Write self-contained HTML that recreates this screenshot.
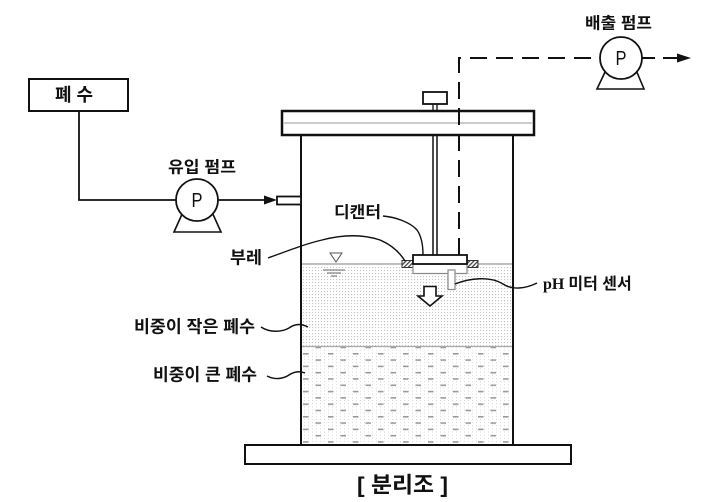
<!DOCTYPE html>
<html><head><meta charset="utf-8"><style>
html,body{margin:0;padding:0;background:#fff;}
svg{display:block;}
text{font-family:"Liberation Sans","Noto Sans CJK KR",sans-serif;font-weight:700;fill:#111;}
</style></head><body>
<svg width="703" height="502" viewBox="0 0 703 502" xmlns="http://www.w3.org/2000/svg">
<defs>
<pattern id="dots" x="0" y="0" width="3" height="3" patternUnits="userSpaceOnUse">
<rect x="0" y="0" width="1.1" height="1.1" fill="#c4c4c4"/>
</pattern>
<pattern id="dots2" x="0" y="0" width="4" height="3.15" patternUnits="userSpaceOnUse">
<rect x="0" y="0" width="1" height="1" fill="#d8d8d8"/>
</pattern>
<pattern id="dashes" x="303" y="353" width="25" height="12.6" patternUnits="userSpaceOnUse">
<rect x="0" y="0" width="5.5" height="1.6" fill="#9a9a9a"/>
<rect x="12.5" y="6.3" width="5.5" height="1.6" fill="#9a9a9a"/>
</pattern>
<pattern id="hatch" width="3" height="3" patternUnits="userSpaceOnUse" patternTransform="rotate(45)">
<rect width="3" height="3" fill="#fff"/>
<rect width="1.3" height="3" fill="#444"/>
</pattern>
</defs>

<!-- fluid regions -->
<rect x="302" y="265" width="210" height="81" fill="url(#dots)"/>
<rect x="302" y="347" width="210" height="97" fill="url(#dots2)"/>
<rect x="302" y="347" width="210" height="97" fill="url(#dashes)"/>
<line x1="302" y1="264" x2="512" y2="264" stroke="#999" stroke-width="1.3"/>
<line x1="302" y1="346.5" x2="512" y2="346.5" stroke="#aaa" stroke-width="1.3"/>

<!-- water level symbol -->
<polygon points="330,253 342,253 336,262" fill="#fff" stroke="#555" stroke-width="1"/>
<line x1="323" y1="270" x2="345" y2="270" stroke="#666" stroke-width="1"/>
<line x1="327" y1="273" x2="341" y2="273" stroke="#666" stroke-width="1"/>
<line x1="331" y1="276" x2="337" y2="276" stroke="#666" stroke-width="1"/>

<!-- tank walls -->
<line x1="301" y1="135" x2="301" y2="446" stroke="#111" stroke-width="2"/>
<line x1="513" y1="135" x2="513" y2="446" stroke="#111" stroke-width="2"/>

<!-- lid -->
<rect x="282" y="111" width="252" height="24" fill="#fff" stroke="#111" stroke-width="2.5"/>
<line x1="284" y1="123" x2="532" y2="123" stroke="#999" stroke-width="1"/>

<!-- knob -->
<rect x="423" y="92" width="24" height="12" fill="#fff" stroke="#111" stroke-width="1.8"/>
<line x1="433" y1="104" x2="433" y2="111" stroke="#111" stroke-width="1.3"/>
<line x1="437" y1="104" x2="437" y2="111" stroke="#111" stroke-width="1.3"/>

<!-- shaft -->
<line x1="433" y1="135" x2="433" y2="255" stroke="#111" stroke-width="1.5"/>
<line x1="437" y1="135" x2="437" y2="255" stroke="#111" stroke-width="1.5"/>

<!-- base plate -->
<rect x="245" y="445" width="326" height="19" fill="#fff" stroke="#111" stroke-width="2"/>

<!-- decanter -->
<rect x="402" y="260.5" width="11" height="7" fill="url(#hatch)" stroke="#333" stroke-width="1"/>
<rect x="467" y="260.5" width="11" height="7" fill="url(#hatch)" stroke="#333" stroke-width="1"/>
<rect x="413" y="264" width="54" height="9.5" fill="#fff" stroke="#888" stroke-width="1.2"/>
<rect x="413" y="255" width="54" height="9" fill="#fff" stroke="#111" stroke-width="1.8"/>
<rect x="448" y="270" width="7" height="19.5" fill="#fff" stroke="#888" stroke-width="1.2"/>
<polygon points="424,286.5 436,286.5 436,296 442,296 430,306 418,296 424,296" fill="#fff" stroke="#111" stroke-width="1.6"/>

<!-- dashed outlet line -->
<path d="M459,255 L459,58 L600,58" fill="none" stroke="#111" stroke-width="2" stroke-dasharray="17 9"/>
<line x1="642" y1="58" x2="655" y2="58" stroke="#111" stroke-width="2"/>
<line x1="663" y1="58" x2="678" y2="58" stroke="#111" stroke-width="2"/>
<polygon points="677,53.5 691,58 677,62.5" fill="#111"/>

<!-- outlet pump -->
<polygon points="606,70 597,89 644,89 636,70" fill="#fff" stroke="#111" stroke-width="1.6"/>
<circle cx="621" cy="58" r="21" fill="#fff" stroke="#111" stroke-width="1.8"/>
<text x="621" y="59" font-size="20" text-anchor="middle" dominant-baseline="central" textLength="11" lengthAdjust="spacingAndGlyphs" style="font-weight:400">P</text>

<!-- inlet system -->
<rect x="29" y="79" width="99" height="32" fill="#fff" stroke="#111" stroke-width="2"/>
<path d="M79,111 L79,200 L177,200" fill="none" stroke="#111" stroke-width="1.8"/>
<polygon points="183,212 174,232 221,232 212,212" fill="#fff" stroke="#111" stroke-width="1.6"/>
<circle cx="197" cy="200" r="21" fill="#fff" stroke="#111" stroke-width="1.8"/>
<text x="197" y="201" font-size="20" text-anchor="middle" dominant-baseline="central" textLength="11" lengthAdjust="spacingAndGlyphs" style="font-weight:400">P</text>
<line x1="218" y1="200" x2="266" y2="200" stroke="#111" stroke-width="1.8"/>
<polygon points="264,195.5 277,200 264,204.5" fill="#111"/>
<rect x="277" y="196.5" width="24" height="8" fill="#fff" stroke="#111" stroke-width="1.8"/>

<!-- leaders -->
<path d="M383,216 C395,217 410,222 417,230 C422,237 423,246 423,255" fill="none" stroke="#111" stroke-width="1.4"/>
<path d="M268,258 C290,250 305,244 322,240 C345,234 365,235 380,240 C392,245 400,253 405,261" fill="none" stroke="#111" stroke-width="1.4"/>
<path d="M455,284 C470,278 490,276 503,284 C512,290 525,289 537,283" fill="none" stroke="#111" stroke-width="1.4"/>
<path d="M261,327 C270,333 282,332 289,328 C296,323 302,324 308,327" fill="none" stroke="#111" stroke-width="1.4"/>
<path d="M267,376 C275,380 283,379 289,375 C295,371 300,371 305,373" fill="none" stroke="#111" stroke-width="1.4"/>

<!-- labels -->
<text x="55" y="95" font-size="18" textLength="38" lengthAdjust="spacingAndGlyphs" dominant-baseline="central">폐 수</text>
<text x="168" y="168" font-size="16" textLength="68" lengthAdjust="spacingAndGlyphs" dominant-baseline="central">유입 펌프</text>
<text x="585" y="24" font-size="16" textLength="67" lengthAdjust="spacingAndGlyphs" dominant-baseline="central">배출 펌프</text>
<text x="334" y="213" font-size="16" textLength="47" lengthAdjust="spacingAndGlyphs" dominant-baseline="central">디캔터</text>
<text x="230" y="258" font-size="17" textLength="32" lengthAdjust="spacingAndGlyphs" dominant-baseline="central">부레</text>
<text x="134" y="327" font-size="17" textLength="121" lengthAdjust="spacingAndGlyphs" dominant-baseline="central">비중이 작은 폐수</text>
<text x="153" y="375" font-size="17" textLength="104" lengthAdjust="spacingAndGlyphs" dominant-baseline="central">비중이 큰 폐수</text>
<text x="543" y="284" font-size="16" dominant-baseline="central"><tspan font-family="Liberation Serif, serif">pH</tspan><tspan dx="4">미터 센서</tspan></text>
<text x="357" y="485" font-size="22" textLength="91" lengthAdjust="spacingAndGlyphs" dominant-baseline="central">[ 분리조 ]</text>
</svg>
</body></html>
